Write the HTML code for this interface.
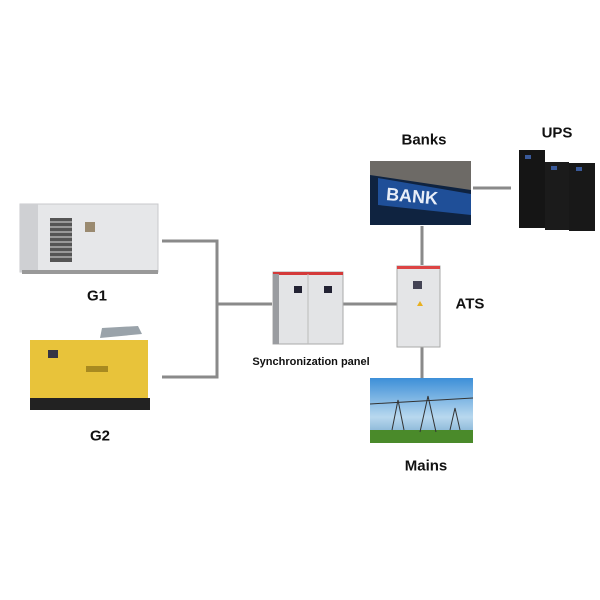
<!DOCTYPE html>
<html><head><style>
body{margin:0;width:600px;height:600px;background:#fff;position:relative;font-family:"Liberation Sans",sans-serif;overflow:hidden}
.l{position:absolute;font-weight:bold;color:#111;transform:translate(-50%,-50%);white-space:nowrap}
</style></head><body>
<svg width="600" height="600" style="position:absolute;left:0;top:0">
<g stroke="#8a8a8a" stroke-width="3" fill="none">
<path d="M162 241H217V377H162M217 304H272M343 304H398M422 226V265M422 347V378M473 188H511"/>
</g>
<!-- G1 container -->
<rect x="20" y="204" width="138" height="68" fill="#e6e7e9" stroke="#c8c9cc"/>
<rect x="20" y="204" width="18" height="68" fill="#cfd0d3"/>
<rect x="50" y="218" width="22" height="44" fill="#555"/>
<g stroke="#ddd" stroke-width="1"><path d="M50 222H72M50 227H72M50 232H72M50 237H72M50 242H72M50 247H72M50 252H72M50 257H72"/></g>
<rect x="85" y="222" width="10" height="10" fill="#9a8a70"/>
<rect x="22" y="270" width="136" height="4" fill="#999"/>
<!-- G2 -->
<rect x="30" y="340" width="118" height="60" fill="#e8c33a"/>
<rect x="30" y="398" width="120" height="12" fill="#222"/>
<path d="M100 338 L102 328 L138 326 L142 334 Z" fill="#9aa3aa"/>
<rect x="48" y="350" width="10" height="8" fill="#334"/>
<rect x="86" y="366" width="22" height="6" fill="#a88a20"/>
<!-- Sync panel -->
<rect x="273" y="272" width="70" height="72" fill="#e3e4e6" stroke="#aaa"/>
<rect x="273" y="272" width="70" height="3" fill="#d43a3a"/>
<line x1="308" y1="274" x2="308" y2="344" stroke="#bbb"/>
<rect x="273" y="274" width="6" height="70" fill="#9a9ca0"/>
<rect x="294" y="286" width="8" height="7" fill="#223"/>
<rect x="324" y="286" width="8" height="7" fill="#223"/>
<!-- ATS -->
<rect x="397" y="266" width="43" height="81" fill="#e4e5e7" stroke="#aaa"/>
<rect x="397" y="266" width="43" height="3" fill="#d44"/>
<rect x="413" y="281" width="9" height="8" fill="#445"/>
<path d="M420 301l3 5h-6z" fill="#e8b020"/>
<!-- Bank -->
<rect x="370" y="161" width="101" height="64" fill="#6d6a66"/>
<path d="M370 175L471 190V225H370Z" fill="#0f2340"/>
<path d="M378 178L471 194V215L378 205Z" fill="#1f4f98"/>
<text x="386" y="203" font-family="Liberation Sans" font-weight="bold" font-size="18" fill="#e8eef8" transform="rotate(5 420 198)">BANK</text>
<!-- UPS -->
<rect x="519" y="150" width="26" height="78" fill="#151515"/>
<rect x="545" y="162" width="24" height="68" fill="#1b1b1b"/>
<rect x="569" y="163" width="26" height="68" fill="#181818"/>
<rect x="525" y="155" width="6" height="4" fill="#3a5a9a"/>
<rect x="551" y="166" width="6" height="4" fill="#3a5a9a"/>
<rect x="576" y="167" width="6" height="4" fill="#3a5a9a"/>
<!-- Mains -->
<defs><linearGradient id="sk" x1="0" y1="0" x2="0" y2="1"><stop offset="0" stop-color="#3d8fd8"/><stop offset=".6" stop-color="#b8d8ee"/><stop offset="1" stop-color="#6aa0c8"/></linearGradient></defs>
<rect x="370" y="378" width="103" height="65" fill="url(#sk)"/>
<rect x="370" y="430" width="103" height="13" fill="#4a8a2a"/>
<g stroke="#333" stroke-width="1" fill="none"><path d="M392 430L398 400L404 430M420 432L428 396L436 432M450 430L455 408L460 430M370 404L473 398"/></g>
</svg>
<div class="l" style="left:424px;top:140px;font-size:15px">Banks</div>
<div class="l" style="left:557px;top:133px;font-size:15px">UPS</div>
<div class="l" style="left:97px;top:296px;font-size:15px">G1</div>
<div class="l" style="left:100px;top:436px;font-size:15px">G2</div>
<div class="l" style="left:470px;top:304px;font-size:15px">ATS</div>
<div class="l" style="left:311px;top:362px;font-size:11px">Synchronization panel</div>
<div class="l" style="left:426px;top:466px;font-size:15px">Mains</div>
</body></html>
